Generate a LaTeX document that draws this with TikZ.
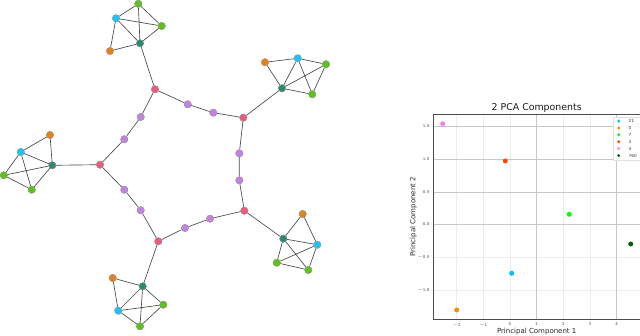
\documentclass[tikz,border=0pt]{standalone}
\usepackage{fontspec}
\newfontfamily\plotfont{DejaVu Sans}
\begin{document}
\begin{tikzpicture}[x=1pt,y=-1pt,
  nd/.style={circle,inner sep=0pt,minimum size=7.3pt,draw=black!40,line width=0.3pt},
  pk/.style={nd,fill=gpink},
  pu/.style={nd,fill=gpurple},
  og/.style={nd,fill=gorange},
  cy/.style={nd,fill=gcyan},
  gr/.style={nd,fill=ggreen},
  hb/.style={nd,fill=ghub},
  ed/.style={draw=black!72,line width=0.65pt},
  pt/.style={circle,inner sep=0pt,minimum size=5pt},
  lm/.style={circle,inner sep=0pt,minimum size=3.2pt},
  tk/.style={font=\plotfont\fontsize{4}{4}\selectfont,text=black!70,inner sep=1pt},
  lt/.style={font=\plotfont\fontsize{4.2}{4.2}\selectfont,text=black!80,anchor=west,inner sep=0pt},
  gmaj/.style={draw=black!22,line width=0.8pt},
  gmin/.style={draw=black!7,line width=0.5pt}]
\definecolor{gpink}{HTML}{EE5A7C}
\definecolor{gpurple}{HTML}{C282E2}
\definecolor{gorange}{HTML}{E5811C}
\definecolor{gcyan}{HTML}{1EC3F2}
\definecolor{ggreen}{HTML}{5CC21C}
\definecolor{ghub}{HTML}{2A8A6C}
\definecolor{cviolet}{HTML}{EE82EE}
\definecolor{corred}{HTML}{FF4500}
\definecolor{clime}{HTML}{00FF00}
\definecolor{cdkgreen}{HTML}{006400}
\definecolor{csky}{HTML}{00BFFF}
\definecolor{cdorange}{HTML}{FF8C00}
\useasboundingbox (0,0) rectangle (640,336);
% ---------------- graph ----------------
% central cycle
\node[pk] (P1) at (155,89.3) {};
\node[pk] (P2) at (243.3,117.7) {};
\node[pk] (P3) at (244.3,210.7) {};
\node[pk] (P4) at (158.3,241.3) {};
\node[pk] (P5) at (100,164.7) {};
\node[pu] (a1) at (187.7,104.3) {};
\node[pu] (a2) at (213.3,112.7) {};
\node[pu] (b1) at (239.3,153.3) {};
\node[pu] (b2) at (239.3,180.3) {};
\node[pu] (c1) at (210,218.7) {};
\node[pu] (c2) at (185,228) {};
\node[pu] (d1) at (140.7,210.3) {};
\node[pu] (d2) at (124.3,189.7) {};
\node[pu] (e1) at (124.3,139.3) {};
\node[pu] (e2) at (140.7,117) {};
% top cluster
\node[gr] (t1) at (138.3,3.8) {};
\node[cy] (t2) at (116,18.3) {};
\node[gr] (t3) at (161.7,26) {};
\node[hb] (th) at (140,43.3) {};
\node[og] (t4) at (110,51) {};
% right-upper cluster
\node[og] (r4) at (265,62.3) {};
\node[cy] (r2) at (297.7,58.3) {};
\node[gr] (r1) at (326,64.3) {};
\node[gr] (r3) at (312.3,94.3) {};
\node[hb] (rh) at (282,88.3) {};
% left cluster
\node[og] (l4) at (50,135) {};
\node[cy] (l2) at (20.7,152) {};
\node[hb] (lh) at (52.3,165.3) {};
\node[gr] (l1) at (3.8,175.3) {};
\node[gr] (l3) at (31.7,189.7) {};
% bottom-right cluster
\node[og] (s4) at (302.7,214) {};
\node[hb] (sh) at (283.3,238.7) {};
\node[cy] (s2) at (317.3,244.7) {};
\node[gr] (s1) at (276.7,262.7) {};
\node[gr] (s3) at (308.3,270) {};
% bottom cluster
\node[og] (u4) at (112.7,278) {};
\node[hb] (uh) at (142.7,286.3) {};
\node[gr] (u1) at (163.3,304.7) {};
\node[cy] (u2) at (118.3,310.7) {};
\node[gr] (u3) at (140,326.3) {};
\path[ed] (P1)--(a1) (a1)--(a2) (a2)--(P2) (P2)--(b1) (b1)--(b2) (b2)--(P3)
  (P3)--(c1) (c1)--(c2) (c2)--(P4) (P4)--(d1) (d1)--(d2) (d2)--(P5)
  (P5)--(e1) (e1)--(e2) (e2)--(P1)
  (P1)--(th) (P2)--(rh) (P3)--(sh) (P4)--(uh) (P5)--(lh)
  (t1)--(t2) (t1)--(t3) (t1)--(th) (t2)--(t3) (t2)--(th) (t3)--(th) (t2)--(t4) (t4)--(th)
  (r4)--(r2) (r4)--(rh) (r2)--(r1) (r2)--(rh) (r2)--(r3) (r1)--(r3) (rh)--(r1) (rh)--(r3)
  (l4)--(l2) (l4)--(lh) (l2)--(lh) (l2)--(l1) (l2)--(l3) (lh)--(l1) (lh)--(l3) (l1)--(l3)
  (s4)--(sh) (s4)--(s2) (sh)--(s2) (sh)--(s1) (sh)--(s3) (s2)--(s1) (s2)--(s3) (s1)--(s3)
  (u4)--(uh) (u4)--(u2) (uh)--(u1) (uh)--(u2) (uh)--(u3) (u2)--(u1) (u2)--(u3) (u1)--(u3);
% redraw nodes on top
\foreach \n/\s in {P1/pk,P2/pk,P3/pk,P4/pk,P5/pk,a1/pu,a2/pu,b1/pu,b2/pu,c1/pu,c2/pu,d1/pu,d2/pu,e1/pu,e2/pu,
  t1/gr,t2/cy,t3/gr,th/hb,t4/og,r4/og,r2/cy,r1/gr,r3/gr,rh/hb,l4/og,l2/cy,lh/hb,l1/gr,l3/gr,
  s4/og,sh/hb,s2/cy,s1/gr,s3/gr,u4/og,uh/hb,u1/gr,u2/cy,u3/gr}
  {\node[\s] at (\n) {};}
% ---------------- PCA plot ----------------
% minor grid
\foreach \xx in {456.7,483.3,510,563.3,590} \draw[gmin] (\xx,114) -- (\xx,319);
\foreach \yy in {257.3,290.2} \draw[gmin] (433,\yy) -- (640,\yy);
% major grid
\foreach \yy in {126.3,159.4,192.3,224.3} \draw[gmaj] (433,\yy) -- (640,\yy);
\foreach \xx in {536.7,616.7} \draw[gmaj] (\xx,114) -- (\xx,319);
% spines
\draw[black!70,line width=0.7pt] (640,114) -- (433,114) -- (433,319) -- (640,319);
% ticks labels
\foreach \xx/\l in {456.7/$-$2,483.3/$-$1,510/0,536.7/1,563.3/2,590/3,616.7/4}
  \node[tk,anchor=north] at (\xx,321.5) {\l};
\foreach \yy/\l in {126.3/1.5,159.4/1.0,192.3/0.5,224.3/0.0,257.3/$-$0.5,290.2/$-$1.0}
  \node[tk,anchor=east] at (430.5,\yy) {\l};
\node[font=\plotfont\fontsize{9.4}{9.4}\selectfont,text=black!90] (title) at (536.7,108.3) {2 PCA Components};
\node[font=\plotfont\fontsize{7}{7}\selectfont,text=black!85] (xl) at (536.7,331.5) {Principal Component 1};
\node[font=\plotfont\fontsize{7}{7}\selectfont,text=black!85,rotate=90] (yl) at (413.5,216.7) {Principal Component 2};
% data points
\node[pt,fill=cviolet] (q4) at (442.7,123.7) {};
\node[pt,fill=corred] (q3) at (505.3,161) {};
\node[pt,fill=clime] (q7) at (569.3,214.3) {};
\node[pt,fill=cdkgreen] (q760) at (630.7,244) {};
\node[pt,fill=csky] (q21) at (511.7,273.3) {};
\node[pt,fill=cdorange] (q0) at (456.7,310) {};
% legend
\draw[black!12,fill=white,line width=0.4pt] (613.3,117) rectangle (645,160.3);
\foreach \yy/\c/\l in {121/csky/21,128/cdorange/0,134.8/clime/7,141.7/corred/3,148.6/cviolet/4,155.6/cdkgreen/760}{
  \node[lm,fill=\c] at (618.7,\yy) {};
  \node[lt] at (628.5,\yy) {\l};
}
\end{tikzpicture}
\end{document}
